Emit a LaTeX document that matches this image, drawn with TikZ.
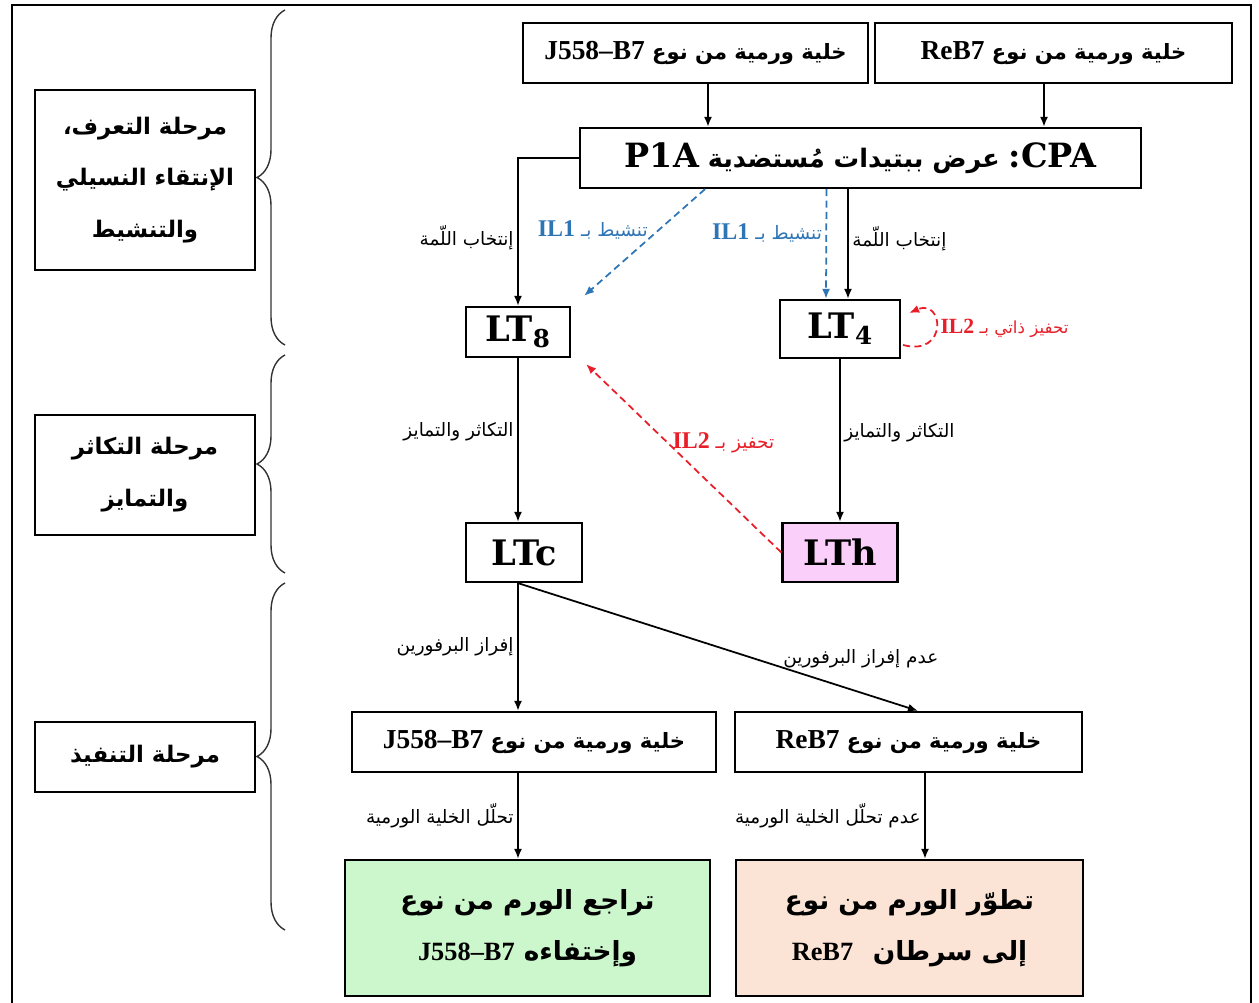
\documentclass[tikz,border=0pt]{standalone}
\usepackage{fontspec}
\setmainfont{Liberation Serif}
\newfontfamily\arfont[Script=Arabic]{DejaVu Sans}
\newfontfamily\latfont{Liberation Serif}[Scale=1.3]
\newfontfamily\cellfont{DejaVu Serif}
\TeXXeTstate=1
\usepackage{tikz}
\usetikzlibrary{arrows.meta,positioning,calc,decorations.pathreplacing}
\definecolor{ilblue}{RGB}{46,117,182}
\definecolor{ilred}{RGB}{232,30,40}
\definecolor{lthpink}{RGB}{250,208,250}
\definecolor{regreen}{RGB}{204,246,204}
\definecolor{cancerpeach}{RGB}{251,228,213}
\newcommand{\ar}[1]{{\arfont\beginR #1\endR}}
\newcommand{\lat}[1]{{\latfont\bfseries\beginL #1\endL}}
\newcommand{\latn}[1]{{\rmfamily\bfseries\beginL #1\endL}}
\newcommand{\cpat}[1]{{\cellfont\bfseries\fontsize{19}{22}\selectfont\beginL #1\endL}}
\tikzset{
  cellbox/.style={draw,line width=1.3pt,align=center,inner sep=2pt,minimum height=1.2cm,
    font=\bfseries\fontsize{12}{14}\selectfont},
  ltbox/.style={draw,line width=1.3pt,inner sep=2pt,font=\cellfont\bfseries\fontsize{20}{22}\selectfont},
  phasebox/.style={draw,line width=1.3pt,align=center,inner sep=2pt,minimum width=4.4cm,
    font=\bfseries\fontsize{13}{29.5}\selectfont},
  flow/.style={-{Latex[length=2mm,width=1.6mm]},line width=1pt},
  blueflow/.style={flow,dashed,dash pattern=on 4pt off 2.5pt,color=ilblue},
  redflow/.style={flow,dashed,dash pattern=on 4pt off 2.5pt,color=ilred},
  lbl/.style={font=\fontsize{10.5}{12}\selectfont,inner sep=2pt},
  bluelbl/.style={lbl,text=ilblue},
  redlbl/.style={lbl,text=ilred}
}
\tikzset{phasebrace/.style={decorate,decoration={brace,amplitude=0.56cm},line width=0.8pt,color=black!80}}

\begin{document}
\begin{tikzpicture}[x=0.02cm,y=-0.02cm]
  \useasboundingbox (0,0) rectangle (1259,1003);
  % frame
  \draw[line width=1.1pt] (12,1003) -- (12,5) -- (1251,5) -- (1251,1003);

  % phases
  \node[phasebox,minimum height=3.6cm] (ph1) at (145,180)
    {\ar{مرحلة التعرف،}\\\ar{الإنتقاء النسيلي}\\\ar{والتنشيط}};
  \node[phasebox,minimum height=2.4cm] (ph2) at (145,475)
    {\ar{مرحلة التكاثر}\\\ar{والتمايز}};
  \node[phasebox,minimum height=1.4cm] (ph3) at (145,757) {\ar{مرحلة التنفيذ}};
  \foreach \ya/\yb in {10/345,355/573,583/930} {
    \draw[phasebrace] (285,\yb) -- (285,\ya);
  }

  % cells
  \node[cellbox,minimum width=6.9cm] (topj) at (695.5,53) {\ar{خلية ورمية من نوع \lat{J558–B7}}};
  \node[cellbox,minimum width=7.14cm] (topr) at (1053.5,53) {\ar{خلية ورمية من نوع \lat{ReB7}}};
  \node[cellbox,minimum width=11.22cm,font=\bfseries\fontsize{14.5}{20}\selectfont] (cpa) at (860.5,158)
    {\ar{\cpat{CPA}\cpat{:} عرض ببتيدات مُستضدية \cpat{P1A}}};
  \node[ltbox,minimum width=2.08cm,minimum height=1cm] (lt8) at (518,332) {LT\textsubscript{8}};
  \node[ltbox,minimum width=2.4cm,minimum height=1.16cm] (lt4) at (840,329) {LT\textsubscript{4}};
  \node[ltbox,minimum width=2.32cm,minimum height=1.18cm] (ltc) at (524,552.5) {LTc};
  \node[ltbox,fill=lthpink,minimum width=2.3cm,minimum height=1.18cm] (lth) at (840,552.5) {LTh};
  \node[cellbox,minimum width=7.28cm] (midj) at (534,742) {\ar{خلية ورمية من نوع \lat{J558–B7}}};
  \node[cellbox,minimum width=6.94cm] (midr) at (908.5,742) {\ar{خلية ورمية من نوع \lat{ReB7}}};
  \node[cellbox,fill=regreen,minimum width=7.3cm,minimum height=2.72cm,
    font=\bfseries\fontsize{15}{29}\selectfont] (green) at (527.5,928)
    {\ar{تراجع الورم من نوع}\\\ar{وإختفاءه \latn{J558–B7}}};
  \node[cellbox,fill=cancerpeach,minimum width=6.94cm,minimum height=2.72cm,
    font=\bfseries\fontsize{15}{29}\selectfont] (peach) at (909.5,928)
    {\ar{تطوّر الورم من نوع}\\\ar{إلى سرطان\hspace{0.4em} \latn{ReB7}}};

  % presentation
  \draw[flow] ([xshift=0.25cm]topj.south) -- ([xshift=0.25cm]topj.south |- cpa.north);
  \draw[flow] ([xshift=-0.19cm]topr.south) -- ([xshift=-0.19cm]topr.south |- cpa.north);

  % selection and activation
  \draw[flow] (cpa.west) -| node[lbl,pos=0.77,left] (selc8) {\ar{إنتخاب اللّمة}} (lt8.north);
  \draw[blueflow] ([xshift=-3.11cm]cpa.south) -- node[bluelbl,pos=0.38,left=4pt] (act8)
    {\ar{تنشيط بـ \lat{IL1}}} ([shift={(0.26cm,0.2cm)}]lt8.north east);
  \draw[blueflow] ([xshift=-0.68cm]cpa.south) -- node[bluelbl,pos=0.4,left] (act4)
    {\ar{تنشيط بـ \lat{IL1}}} ([xshift=-0.28cm]lt4.north);
  \draw[flow] ([xshift=-0.25cm]cpa.south) -- node[lbl,pos=0.45,right] (selc4)
    {\ar{إنتخاب اللّمة}} ([xshift=0.16cm]lt4.north);
  \draw[redflow] ([shift={(2,16)}]lt4.east) .. controls +(45,12) and +(35,-15) ..
    node[redlbl,pos=0.5,right,font=\fontsize{9.5}{11}\selectfont] (auto4)
    {\ar{تحفيز ذاتي بـ \lat{IL2}}} ([shift={(8,-16)}]lt4.east);

  % proliferation
  \draw[flow] (lt8.south) -- node[lbl,pos=0.45,left] (prol8) {\ar{التكاثر والتمايز}} (lt8.south |- ltc.north);
  \draw[flow] (lt4.south) -- node[lbl,pos=0.45,right] (prol4) {\ar{التكاثر والتمايز}} (lt4.south |- lth.north);
  \draw[redflow] (lth.west) -- node[redlbl,pos=0.58,right] (stim8)
    {\ar{تحفيز بـ \lat{IL2}}} ([shift={(0.3cm,-0.12cm)}]lt8.south east);

  % effector
  \draw[flow] (lt8.south |- ltc.south) -- node[lbl,midway,left] (secr)
    {\ar{إفراز البرفورين}} (lt8.south |- midj.north);
  \draw[flow] (lt8.south |- ltc.south) -- node[lbl,pos=0.59,right=0.5cm] (nosecr)
    {\ar{عدم إفراز البرفورين}} ([xshift=0.19cm]midr.north);
  \draw[flow] (lt8.south |- midj.south) -- node[lbl,midway,left] (lysis)
    {\ar{تحلّل الخلية الورمية}} (lt8.south |- green.north);
  \draw[flow] ([xshift=0.33cm]midr.south) -- node[lbl,midway,left] (nolysis)
    {\ar{عدم تحلّل الخلية الورمية}} ([xshift=0.33cm]midr.south |- peach.north);
\end{tikzpicture}
\end{document}
